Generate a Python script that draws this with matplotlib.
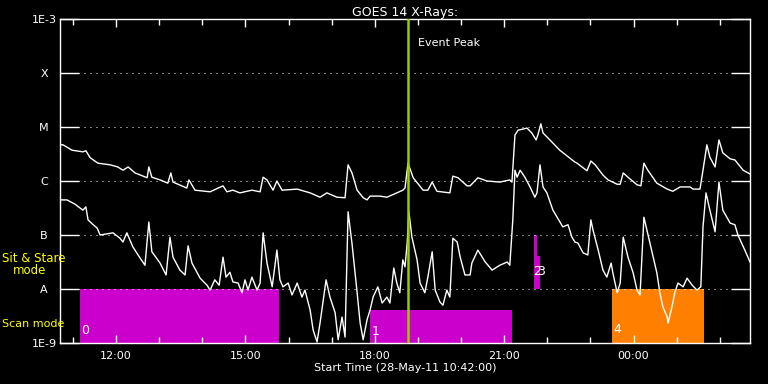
#GOES 14 X-ray flux plot, 28-May-11
import numpy as np
import pandas as pd
import matplotlib
matplotlib.use("Agg")
import matplotlib.pyplot as plt
import matplotlib.dates as mdates

#DATA
start = pd.Timestamp("2011-05-28 10:42:00")
hours_span = 16.0

#long channel (1-8 A), hours after start and log10 flux
long_hours = [0.00, 0.07, 0.28, 0.53, 0.60, 0.70, 0.88, 1.16, 1.34, 1.46, 1.58, 1.74,
              2.02, 2.06, 2.13, 2.32, 2.50, 2.57, 2.62, 2.94, 2.99, 3.13, 3.48, 3.78,
              3.87, 4.01, 4.17, 4.45, 4.64, 4.71, 4.80, 4.94, 5.03, 5.15, 5.50, 5.80,
              6.03, 6.19, 6.42, 6.61, 6.68, 6.77, 6.89, 7.03, 7.12, 7.19, 7.42, 7.58,
              7.81, 7.95, 8.00, 8.07, 8.19, 8.42, 8.53, 8.63, 8.74, 9.04, 9.11, 9.23,
              9.44, 9.51, 9.69, 9.90, 10.20, 10.43, 10.48, 10.55, 10.62, 10.83, 10.94, 11.04,
              11.08, 11.15, 11.20, 11.36, 11.59, 11.94, 11.99, 12.22, 12.31, 12.41, 12.59, 12.71,
              12.92, 12.99, 13.06, 13.17, 13.38, 13.47, 13.54, 13.63, 13.84, 14.08, 14.21, 14.38,
              14.61, 14.68, 14.84, 14.91, 15.00, 15.07, 15.19, 15.28, 15.37, 15.54, 15.65, 15.84,
              16.00]
long_logflux = [-5.33, -5.33, -5.43, -5.46, -5.44, -5.57, -5.67, -5.70, -5.74, -5.80, -5.74, -5.85,
                -5.94, -5.74, -5.93, -5.98, -6.04, -5.85, -6.02, -6.13, -5.98, -6.17, -6.20, -6.09,
                -6.20, -6.17, -6.22, -6.17, -6.20, -5.93, -5.98, -6.17, -6.00, -6.17, -6.15, -6.22,
                -6.30, -6.22, -6.30, -6.31, -5.70, -5.85, -6.17, -6.31, -6.35, -6.28, -6.28, -6.30,
                -6.22, -6.17, -6.13, -5.67, -5.94, -6.17, -6.17, -6.02, -6.19, -6.22, -5.91, -5.94,
                -6.09, -6.09, -5.94, -6.00, -6.02, -5.98, -6.02, -5.15, -5.06, -5.02, -5.11, -5.24,
                -5.15, -4.94, -5.11, -5.24, -5.43, -5.65, -5.67, -5.81, -5.63, -5.70, -5.89, -5.98,
                -6.06, -6.06, -5.85, -5.93, -6.07, -6.09, -5.67, -5.80, -6.04, -6.15, -6.19, -6.11,
                -6.11, -6.15, -6.15, -5.80, -5.33, -5.56, -5.74, -5.24, -5.48, -5.59, -5.61, -5.80,
                -5.87]

#short channel (0.5-4 A)
short_hours = [0.00, 0.16, 0.35, 0.53, 0.60, 0.65, 0.77, 0.86, 0.93, 1.23, 1.39, 1.46,
               1.55, 1.69, 1.81, 1.97, 2.06, 2.13, 2.32, 2.46, 2.55, 2.62, 2.78, 2.90,
               2.97, 3.06, 3.25, 3.41, 3.48, 3.59, 3.69, 3.78, 3.85, 3.94, 4.01, 4.13,
               4.22, 4.29, 4.36, 4.45, 4.57, 4.64, 4.71, 4.80, 4.92, 5.03, 5.10, 5.17,
               5.29, 5.38, 5.50, 5.61, 5.68, 5.80, 5.87, 5.96, 6.03, 6.17, 6.26, 6.38,
               6.45, 6.54, 6.61, 6.68, 6.77, 6.89, 6.96, 7.03, 7.12, 7.19, 7.26, 7.37,
               7.47, 7.58, 7.65, 7.74, 7.81, 7.88, 7.95, 8.00, 8.05, 8.09, 8.16, 8.28,
               8.35, 8.46, 8.53, 8.63, 8.70, 8.81, 8.88, 8.97, 9.04, 9.11, 9.21, 9.28,
               9.39, 9.51, 9.55, 9.69, 9.86, 10.02, 10.20, 10.37, 10.43, 10.50, 10.55, 10.60,
               10.67, 10.78, 10.90, 11.01, 11.06, 11.13, 11.20, 11.29, 11.43, 11.66, 11.78, 11.87,
               11.94, 12.01, 12.13, 12.24, 12.31, 12.36, 12.48, 12.59, 12.68, 12.78, 12.82, 12.92,
               12.99, 13.06, 13.17, 13.29, 13.38, 13.45, 13.54, 13.68, 13.84, 13.91, 13.98, 14.08,
               14.10, 14.19, 14.26, 14.33, 14.45, 14.54, 14.66, 14.77, 14.86, 14.91, 14.98, 15.07,
               15.19, 15.28, 15.37, 15.54, 15.65, 15.72, 15.88, 16.00]
short_logflux = [-6.35, -6.35, -6.43, -6.54, -6.48, -6.72, -6.81, -6.87, -7.00, -6.96, -7.06, -7.13,
                 -6.96, -7.22, -7.37, -7.56, -6.76, -7.31, -7.52, -7.74, -7.04, -7.41, -7.65, -7.74,
                 -7.20, -7.52, -7.80, -7.93, -8.02, -7.83, -7.93, -7.41, -7.78, -7.69, -7.87, -7.89,
                 -8.07, -7.83, -8.02, -7.78, -8.02, -7.89, -6.96, -7.52, -7.96, -7.28, -7.83, -7.96,
                 -7.89, -8.11, -7.89, -8.15, -8.02, -8.39, -8.76, -8.98, -8.63, -7.83, -8.15, -8.44,
                 -8.94, -8.52, -8.89, -6.57, -7.15, -8.07, -8.63, -8.94, -8.57, -8.39, -8.15, -7.96,
                 -8.26, -8.15, -8.26, -7.61, -7.89, -8.07, -7.46, -7.59, -7.15, -6.57, -7.04, -7.46,
                 -7.89, -8.07, -7.78, -7.31, -8.02, -8.24, -8.30, -8.02, -8.15, -7.06, -7.13, -7.41,
                 -7.74, -7.74, -7.52, -7.28, -7.50, -7.65, -7.56, -7.50, -7.56, -6.72, -5.80, -5.93,
                 -5.80, -5.93, -6.11, -6.30, -6.22, -5.70, -6.11, -6.22, -6.54, -6.85, -6.81, -7.04,
                 -7.13, -7.15, -7.33, -7.37, -6.72, -6.91, -7.28, -7.65, -7.78, -7.52, -7.70, -8.07,
                 -7.89, -7.04, -7.41, -7.70, -8.02, -8.11, -6.67, -7.15, -7.70, -8.07, -8.33, -8.52,
                 -8.63, -8.33, -8.06, -7.89, -7.96, -7.80, -7.93, -8.02, -7.96, -6.85, -6.22, -6.54,
                 -6.94, -6.02, -6.54, -6.78, -6.81, -7.00, -7.28, -7.50]

#observation blocks: label, start hour, end hour, bottom flux, top flux, colour
block_labels = ["0", "1", "2", "3", "4"]
block_start = [0.46, 7.19, 10.98, 11.06, 12.80]
block_end = [5.08, 10.48, 11.06, 11.13, 14.93]
block_bottom = [1e-9, 1e-9, 1e-8, 1e-8, 1e-9]
block_top = [1e-8, 4.1e-9, 1e-7, 4.1e-8, 1e-8]
block_color = ["#cc00cc", "#cc00cc", "#cc00cc", "#cc00cc", "#ff8000"]
#where each block number is written (hour, flux)
label_hour = [0.50, 7.22, 10.98, 11.07, 12.83]
label_flux = [1.7e-9, 1.6e-9, 2.1e-8, 2.1e-8, 1.8e-9]

event_peak_hour = 8.07

ytick_vals = [1e-9, 1e-8, 1e-7, 1e-6, 1e-5, 1e-4, 1e-3]
ytick_names = ["1E-9", "A", "B", "C", "M", "X", "1E-3"]


def to_time(h):
    return start + pd.to_timedelta(np.asarray(h, dtype=float), unit="h")


plt.rcParams['font.family'] = ['DejaVu Sans']
fig = plt.figure(figsize=(7.68, 3.84), dpi=100, facecolor="black")
ax = fig.add_axes([60/768, 41/384, 690/768, 324/384])
ax.set_facecolor("black")

#mode blocks
for i in range(len(block_labels)):
    t0 = to_time(block_start[i])
    t1 = to_time(block_end[i])
    ax.fill_between([t0, t1], block_bottom[i], block_top[i], color=block_color[i],
                    linewidth=0, zorder=1)

#flux curves
ax.plot(to_time(long_hours), 10**np.array(long_logflux), color="white", lw=1, zorder=3)
ax.plot(to_time(short_hours), 10**np.array(short_logflux), color="white", lw=1, zorder=3)

#block numbers
for i in range(len(block_labels)):
    ax.text(to_time(label_hour[i]), label_flux[i], block_labels[i], color="white",
            fontsize=9, ha="left", va="center", zorder=4)

#event peak marker
ax.axvline(to_time(event_peak_hour), color="#99cc00", lw=1.8, zorder=5)
ax.text(to_time(event_peak_hour + 0.23), 10**-3.45, "Event Peak", color="white",
        fontsize=8, ha="left", va="center")

ax.set_yscale("log")
ax.set_ylim(1e-9, 1e-3)
ax.set_xlim(to_time(0), to_time(hours_span))

ax.set_yticks(ytick_vals)
ax.set_yticklabels(ytick_names, ha="center")
ax.yaxis.set_minor_locator(matplotlib.ticker.NullLocator())
for v in ytick_vals[1:-1]:
    ax.axhline(v, color="white", lw=0.72, dashes=(1, 5), zorder=2)

ax.xaxis.set_major_locator(mdates.HourLocator(byhour=[0, 3, 6, 9, 12, 15, 18, 21]))
ax.xaxis.set_minor_locator(mdates.HourLocator())
ax.xaxis.set_major_formatter(mdates.DateFormatter("%H:%M"))

ax.tick_params(axis="y", which="major", direction="in", length=14, width=1,
               colors="white", labelsize=8, left=True, right=True, pad=11.5)
ax.tick_params(axis="x", which="major", direction="in", length=6, width=1,
               colors="white", labelsize=8, top=True, bottom=True, pad=6)
ax.tick_params(axis="x", which="minor", direction="in", length=4, width=1,
               colors="white", top=True, bottom=True)
for s in ax.spines.values():
    s.set_color("white")
    s.set_linewidth(1)

ax.set_title("GOES 14 X-Rays:", color="white", fontsize=9, pad=2)
ax.set_xlabel("Start Time (28-May-11 10:42:00)", color="white", fontsize=8, labelpad=1)

#mode labels on the left
fig.text(2/768, 1 - 259/384, "Sit & Stare", color="yellow", fontsize=8.5,
         ha="left", va="center")
fig.text(13/768, 1 - 271/384, "mode", color="yellow", fontsize=8.5,
         ha="left", va="center")
fig.text(2/768, 1 - 324/384, "Scan mode", color="yellow", fontsize=8,
         ha="left", va="center")

fig.savefig("out.png", dpi=100, facecolor="black")
